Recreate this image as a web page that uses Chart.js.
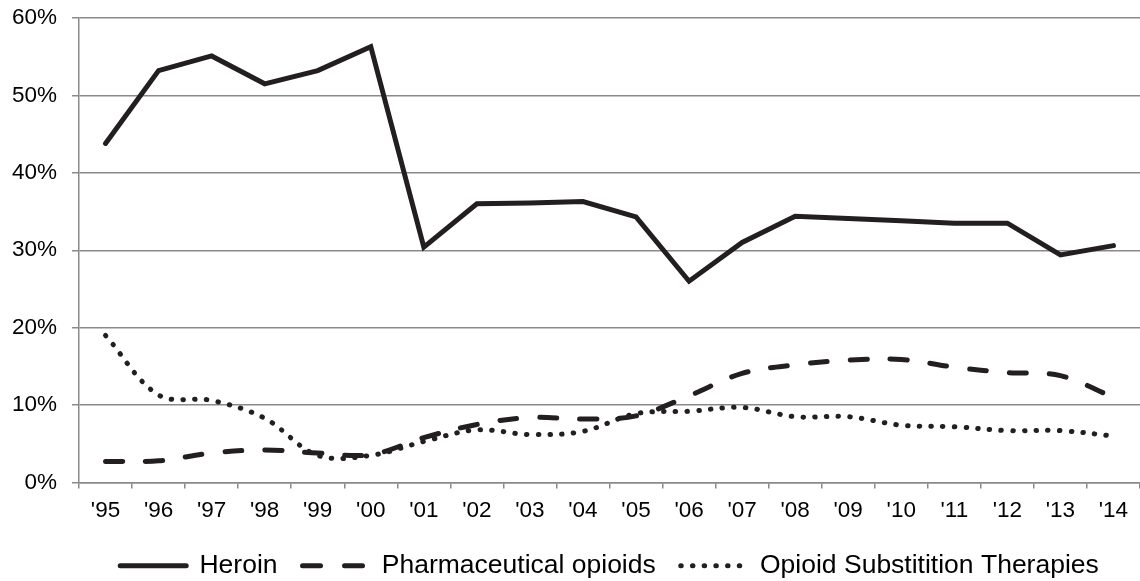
<!DOCTYPE html>
<html>
<head>
<meta charset="utf-8">
<script src="https://cdn.jsdelivr.net/npm/chart.js@4/dist/chart.umd.min.js"></script>
<style>
  html, body { margin: 0; padding: 0; background: #ffffff; }
  #wrap { width: 1140px; height: 581px; }
</style>
</head>
<body>
<div id="wrap"><canvas id="opioidChart"></canvas></div>
<script>
// DATA
const years = ["'95", "'96", "'97", "'98", "'99", "'00", "'01", "'02", "'03", "'04",
               "'05", "'06", "'07", "'08", "'09", "'10", "'11", "'12", "'13", "'14"];
const heroin = [43.8, 53.2, 55.1, 51.5, 53.2, 56.3, 30.4, 36.0, 36.1, 36.3,
                34.3, 26.0, 31.0, 34.4, 34.1, 33.8, 33.5, 33.5, 29.4, 30.6];
const pharmaOpioids = [2.7, 2.8, 3.8, 4.2, 3.8, 3.6, 5.8, 7.5, 8.4, 8.2,
                       8.6, 11.2, 14.1, 15.2, 15.8, 15.9, 14.9, 14.2, 13.8, 11.0];
const substitution = [19.0, 11.3, 10.6, 8.3, 3.5, 3.5, 5.3, 6.8, 6.2, 6.6,
                      8.9, 9.2, 9.7, 8.5, 8.5, 7.4, 7.2, 6.7, 6.7, 6.0];
const yTicks = [0, 10, 20, 30, 40, 50, 60];

const lineColor = '#231f20';
const gridColor = '#8a8a8a';
const fontFamily = 'Liberation Sans, Arial, sans-serif';

// LINE CHART
const ctx = document.getElementById('opioidChart').getContext('2d');

const opioidChart = new Chart(ctx, {
  type: 'line',
  data: {
    labels: years,
    datasets: [
      {
        label: 'Heroin',
        data: heroin,
        borderColor: lineColor,
        backgroundColor: lineColor,
        borderWidth: 5,
        borderCapStyle: 'round',
        borderJoinStyle: 'miter',
        tension: 0,
        pointRadius: 0,
        fill: false,
        legendDash: [],
      },
      {
        label: 'Pharmaceutical opioids',
        data: pharmaOpioids,
        borderColor: lineColor,
        backgroundColor: lineColor,
        borderWidth: 5,
        borderDash: [17, 23],
        borderCapStyle: 'round',
        tension: 0.35,
        pointRadius: 0,
        fill: false,
        legendDash: [18, 24],
      },
      {
        label: 'Opioid Substitition Therapies',
        data: substitution,
        borderColor: lineColor,
        backgroundColor: lineColor,
        borderWidth: 5,
        borderDash: [0.5, 11.2],
        borderCapStyle: 'round',
        tension: 0.35,
        pointRadius: 0,
        fill: false,
        legendDash: [0.5, 11.2],
      },
    ],
  },
  options: {
    responsive: true,
    maintainAspectRatio: false,
    animation: false,
    layout: {
      padding: { top: 18, left: 0, right: 0, bottom: -8 },
    },
    plugins: {
      tooltip: { enabled: false },
      legend: {
        position: 'bottom',
        fullSize: false,
        labels: {
          usePointStyle: true,
          pointStyle: 'line',
          pointStyleWidth: 66,
          padding: 25,
          color: '#000000',
          font: { family: fontFamily, size: 26.5 },
          // copy the line look of each dataset into its legend sample
          generateLabels: function (chart) {
            const items = Chart.defaults.plugins.legend.labels.generateLabels(chart);
            items.forEach(item => {
              const ds = chart.data.datasets[item.datasetIndex];
              item.lineDash = ds.legendDash;
              item.lineWidth = ds.borderWidth;
              item.lineCap = 'round';
              item.strokeStyle = ds.borderColor;
            });
            return items;
          },
        },
      },
    },
    scales: {
      x: {
        offset: true,
        afterFit: function (scale) {
          scale.height = 45;
        },
        grid: {
          offset: true,
          drawOnChartArea: false,
          drawTicks: true,
          tickLength: 6,
          color: gridColor,
          lineWidth: 1.5,
        },
        border: { color: gridColor, width: 1.5 },
        ticks: {
          padding: 9,
          color: '#000000',
          maxRotation: 0,
          autoSkip: false,
          font: { family: fontFamily, size: 22.5 },
        },
      },
      y: {
        min: 0,
        max: 60,
        afterFit: function (scale) {
          scale.width = 79;
          // let layout padding decide the top edge
          scale.paddingTop = 0;
        },
        afterBuildTicks: function (scale) {
          scale.ticks = yTicks.map(v => ({ value: v }));
        },
        grid: {
          color: gridColor,
          lineWidth: 1.5,
          tickLength: 7,
        },
        border: { color: gridColor, width: 1.5 },
        ticks: {
          padding: 15,
          color: '#000000',
          font: { family: fontFamily, size: 22.5 },
          callback: function (value) {
            return value + '%';
          },
        },
      },
    },
  },
});
</script>
</body>
</html>
